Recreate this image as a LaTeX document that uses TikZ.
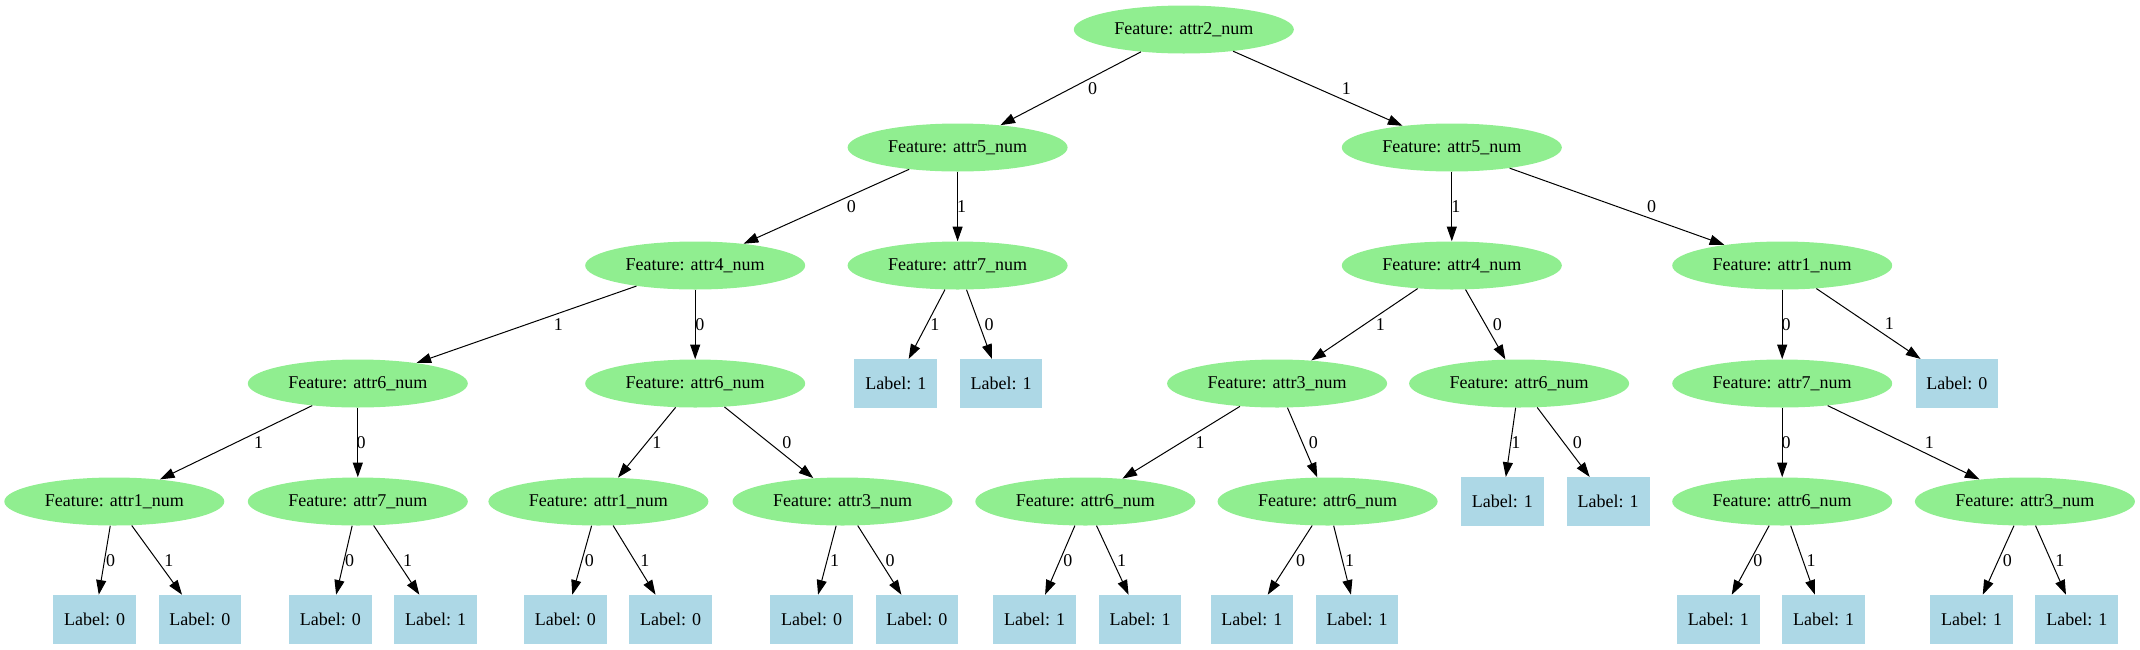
\documentclass[tikz,border=0pt]{standalone}
\usepackage{fontspec}
\setmainfont{Liberation Serif}
\usetikzlibrary{shapes.geometric,arrows.meta}
\definecolor{featgreen}{HTML}{90EE90}
\definecolor{leafblue}{HTML}{ADD8E6}
\begin{document}
\begin{tikzpicture}[x=0.75bp,y=-0.75bp,
        every node/.style={font=\fontsize{13.5bp}{16bp}\selectfont},
        feat/.style={ellipse,fill=featgreen,minimum width=165bp,minimum height=36bp,inner sep=0pt},
        leaf/.style={rectangle,fill=leafblue,minimum width=62bp,minimum height=36.5bp,inner sep=0pt},
        branch/.style={-{Triangle[length=11bp,width=7.5bp]},line width=0.75bp},
        lbl/.style={midway,inner sep=0pt}]
                \useasboundingbox (0,0) rectangle (2140,649);
                \begin{scope}[shift={(0,29.5)}]
                    \node[feat] (root) at (1183.8,0) {Feature: attr2\_num};
                \end{scope}
                \begin{scope}[shift={(0,147.5)}]
                    \node[feat] (n0) at (957.6,0) {Feature: attr5\_num};
                    \node[feat] (n1) at (1451.8,0) {Feature: attr5\_num};
                \end{scope}
                \begin{scope}[shift={(0,265.5)}]
                    \node[feat] (n00) at (695.2,0) {Feature: attr4\_num};
                    \node[feat] (n01) at (957.6,0) {Feature: attr7\_num};
                    \node[feat] (n11) at (1451.8,0) {Feature: attr4\_num};
                    \node[feat] (n10) at (1782.2,0) {Feature: attr1\_num};
                \end{scope}
                \begin{scope}[shift={(0,383.5)}]
                    \node[feat] (n001) at (357.8,0) {Feature: attr6\_num};
                    \node[feat] (n000) at (695.2,0) {Feature: attr6\_num};
                    \node[leaf] (l011) at (895.8,0) {Label: 1};
                    \node[leaf] (l010) at (1001,0) {Label: 1};
                    \node[feat] (n111) at (1277.1,0) {Feature: attr3\_num};
                    \node[feat] (n110) at (1519.1,0) {Feature: attr6\_num};
                    \node[feat] (n100) at (1782.2,0) {Feature: attr7\_num};
                    \node[leaf] (l101) at (1956.9,0) {Label: 0};
                \end{scope}
                \begin{scope}[shift={(0,501.5)}]
                    \node[feat] (n0011) at (114.3,0) {Feature: attr1\_num};
                    \node[feat] (n0010) at (357.8,0) {Feature: attr7\_num};
                    \node[feat] (n0001) at (598.4,0) {Feature: attr1\_num};
                    \node[feat] (n0000) at (842.5,0) {Feature: attr3\_num};
                    \node[feat] (n1111) at (1085.3,0) {Feature: attr6\_num};
                    \node[feat] (n1110) at (1327.6,0) {Feature: attr6\_num};
                    \node[leaf] (l1101) at (1502.3,0) {Label: 1};
                    \node[leaf] (l1100) at (1608.2,0) {Label: 1};
                    \node[feat] (n1000) at (1782.2,0) {Feature: attr6\_num};
                    \node[feat] (n1001) at (2024.9,0) {Feature: attr3\_num};
                \end{scope}
                \begin{scope}[shift={(0,619.3)}]
                    \node[leaf] (la0) at (94.7,0) {Label: 0};
                    \node[leaf] (la1) at (199.9,0) {Label: 0};
                    \node[leaf] (lb0) at (330.4,0) {Label: 0};
                    \node[leaf] (lb1) at (435.6,0) {Label: 1};
                    \node[leaf] (lc0) at (565.4,0) {Label: 0};
                    \node[leaf] (lc1) at (670.6,0) {Label: 0};
                    \node[leaf] (ld1) at (811.6,0) {Label: 0};
                    \node[leaf] (ld0) at (916.9,0) {Label: 0};
                    \node[leaf] (le0) at (1034.5,0) {Label: 1};
                    \node[leaf] (le1) at (1140,0) {Label: 1};
                    \node[leaf] (lf0) at (1251.9,0) {Label: 1};
                    \node[leaf] (lf1) at (1357.1,0) {Label: 1};
                    \node[leaf] (lg0) at (1718.4,0) {Label: 1};
                    \node[leaf] (lg1) at (1823.6,0) {Label: 1};
                    \node[leaf] (lh0) at (1971.6,0) {Label: 1};
                    \node[leaf] (lh1) at (2076.8,0) {Label: 1};
                \end{scope}
                % branches, label on the right of each one
                \draw[branch] (root) -- node[lbl,xshift=16.5pt] {0} (n0);
                \draw[branch] (root) -- node[lbl,xshift=21.5pt] {1} (n1);
                \draw[branch] (n0) -- node[lbl,xshift=18.8pt] {0} (n00);
                \draw[branch] (n0) -- node[lbl,xshift=3pt] {1} (n01);
                \draw[branch] (n1) -- node[lbl,xshift=3pt] {1} (n11);
                \draw[branch] (n1) -- node[lbl,xshift=26pt] {0} (n10);
                \draw[branch] (n00) -- node[lbl,xshift=24pt] {1} (n001);
                \draw[branch] (n00) -- node[lbl,xshift=3.5pt] {0} (n000);
                \draw[branch] (n01) -- node[lbl,xshift=6pt] {1} (l011);
                \draw[branch] (n01) -- node[lbl,xshift=7.5pt] {0} (l010);
                \draw[branch] (n11) -- node[lbl,xshift=12pt] {1} (n111);
                \draw[branch] (n11) -- node[lbl,xshift=9pt] {0} (n110);
                \draw[branch] (n10) -- node[lbl,xshift=3pt] {0} (n100);
                \draw[branch] (n10) -- node[lbl,xshift=15.8pt] {1} (l101);
                \draw[branch] (n001) -- node[lbl,xshift=16.9pt] {1} (n0011);
                \draw[branch] (n001) -- node[lbl,xshift=2.5pt] {0} (n0010);
                \draw[branch] (n000) -- node[lbl,xshift=7.5pt] {1} (n0001);
                \draw[branch] (n000) -- node[lbl,xshift=13.5pt] {0} (n0000);
                \draw[branch] (n111) -- node[lbl,xshift=14.3pt] {1} (n1111);
                \draw[branch] (n111) -- node[lbl,xshift=8.3pt] {0} (n1110);
                \draw[branch] (n110) -- node[lbl,xshift=3.8pt] {1} (l1101);
                \draw[branch] (n110) -- node[lbl,xshift=10.5pt] {0} (l1100);
                \draw[branch] (n100) -- node[lbl,xshift=3pt] {0} (n1000);
                \draw[branch] (n100) -- node[lbl,xshift=19.5pt] {1} (n1001);
                \draw[branch] (n0011) -- node[lbl,xshift=4.5pt] {0} (la0);
                \draw[branch] (n0011) -- node[lbl,xshift=9pt] {1} (la1);
                \draw[branch] (n0010) -- node[lbl,xshift=4.2pt] {0} (lb0);
                \draw[branch] (n0010) -- node[lbl,xshift=8.3pt] {1} (lb1);
                \draw[branch] (n0001) -- node[lbl,xshift=5.6pt] {0} (lc0);
                \draw[branch] (n0001) -- node[lbl,xshift=7.9pt] {1} (lc1);
                \draw[branch] (n0000) -- node[lbl,xshift=5.6pt] {1} (ld1);
                \draw[branch] (n0000) -- node[lbl,xshift=8pt] {0} (ld0);
                \draw[branch] (n1111) -- node[lbl,xshift=6pt] {0} (le0);
                \draw[branch] (n1111) -- node[lbl,xshift=6.9pt] {1} (le1);
                \draw[branch] (n1110) -- node[lbl,xshift=8.1pt] {0} (lf0);
                \draw[branch] (n1110) -- node[lbl,xshift=5.5pt] {1} (lf1);
                \draw[branch] (n1000) -- node[lbl,xshift=5.6pt] {0} (lg0);
                \draw[branch] (n1000) -- node[lbl,xshift=6.2pt] {1} (lg1);
                \draw[branch] (n1001) -- node[lbl,xshift=6.8pt] {0} (lh0);
                \draw[branch] (n1001) -- node[lbl,xshift=6.8pt] {1} (lh1);
            \end{tikzpicture}
\end{document}
